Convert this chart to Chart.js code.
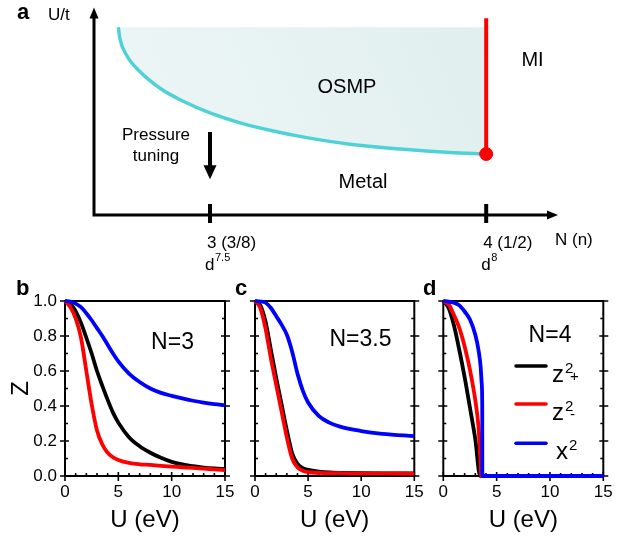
<!DOCTYPE html>
<html>
<head>
<meta charset="utf-8">
<script src="https://cdn.jsdelivr.net/npm/chart.js@4/dist/chart.umd.min.js"></script>
<style>
  body { margin: 0; background: #fff; width: 638px; height: 538px; position: relative; overflow: hidden; }
  canvas { position: absolute; }
</style>
</head>
<body>
<canvas id="chartA" width="638" height="280" style="left:0;top:0"></canvas>
<canvas id="chartB" width="240" height="258" style="left:0;top:280px"></canvas>
<canvas id="chartC" width="200" height="258" style="left:232px;top:280px"></canvas>
<canvas id="chartD" width="218" height="258" style="left:420px;top:280px"></canvas>
<script>
// panel a: OSMP boundary U/t vs N
const boundaryN = [2.668, 2.674, 2.698, 2.747, 2.819, 2.903, 3.0, 3.109, 3.229, 3.35, 3.507, 3.688, 3.869, 4.0];
const boundaryU = [9.05, 8.49, 7.70, 6.90, 6.11, 5.48, 4.92, 4.44, 4.05, 3.73, 3.41, 3.18, 3.01, 2.94];
const osmpTop = 9.05;
const miN = 4;
const miU = [2.94, 9.48];
const aTickValues = [3, 4];
const aTickLabels = ['3 (3/8)', '4 (1/2)'];
const aTickConfigs = [['d', '7.5'], ['d', '8']];
const pressureN = 3;
const pressureU = [4.0, 1.72];

// panel b: N=3
const uB = [0, 0.5, 1, 1.5, 2, 2.5, 3, 3.5, 4, 4.5, 5, 6, 7, 8, 9, 10, 11, 12, 13, 14, 15];
const zPlusB = [1, .985, .94, .875, .79, .70, .60, .515, .435, .362, .305, .222, .17, .133, .104, .081, .066, .056, .048, .043, .04];
const zMinusB = [1, .965, .90, .79, .60, .41, .26, .18, .133, .107, .092, .075, .067, .063, .058, .054, .05, .046, .042, .038, .034];
const x2B = [1, .997, .985, .965, .93, .89, .845, .80, .75, .70, .655, .585, .537, .50, .475, .458, .443, .43, .419, .411, .405];

// panel c: N=3.5
const uC = [0, 0.5, 1, 1.5, 2, 2.5, 3, 3.5, 4, 4.5, 5, 6, 7, 8, 10, 12, 15];
const zPlusC = [1, .975, .88, .72, .56, .41, .26, .13, .07, .045, .035, .025, .02, .018, .016, .015, .015];
const zMinusC = [1, .96, .84, .67, .52, .37, .22, .10, .05, .03, .022, .018, .016, .016, .015, .015, .014];
const x2C = [1, .997, .99, .96, .913, .865, .807, .71, .585, .488, .42, .344, .305, .282, .257, .241, .228];

// panel d: N=4
const uPlusD = [0, 0.5, 1, 1.5, 2, 2.5, 3, 3.45, 15];
const zPlusD = [1, .96, .86, .72, .565, .39, .21, 0, 0];
const uMinusD = [0, 0.5, 1, 1.5, 2, 2.5, 3, 3.3, 3.5, 3.55, 15];
const zMinusD = [1, .98, .92, .846, .74, .606, .433, .28, .07, 0, 0];
const uX2D = [0, 0.5, 1, 1.5, 2, 2.5, 3, 3.3, 3.5, 3.6, 3.65, 3.66, 15];
const x2D = [1, .996, .99, .975, .94, .894, .807, .72, .625, .53, .40, 0, 0];

const legendLabels = [['z', '2', '+'], ['z', '2', '-'], ['x', '2', '']];
const seriesColors = ['#000000', '#ff0000', '#0000ff'];

const FONT = "'Liberation Sans', Arial, sans-serif";
Chart.defaults.font.family = FONT;
Chart.defaults.color = '#000';

function pts(xs, ys) {
  return xs.map((x, i) => ({x: x, y: ys[i]}));
}

function txt(ctx, s, x, y, size, align, bold) {
  ctx.font = (bold ? 'bold ' : '') + size + 'px ' + FONT;
  ctx.textAlign = align || 'center';
  ctx.fillText(s, x, y);
}

// ---------- panel a ----------
const phasePlugin = {
  id: 'phase',
  afterDraw(chart) {
    const {ctx, chartArea: a, scales: {x, y}} = chart;
    ctx.save();
    ctx.strokeStyle = '#000';
    ctx.fillStyle = '#000';
    ctx.lineWidth = 3;
    // axes with arrows
    ctx.beginPath();
    ctx.moveTo(a.left, a.bottom); ctx.lineTo(a.left, a.top + 8);
    ctx.moveTo(a.left - 1.5, a.bottom); ctx.lineTo(a.right - 8, a.bottom);
    ctx.stroke();
    ctx.beginPath();
    ctx.moveTo(a.left, a.top); ctx.lineTo(a.left - 4.5, a.top + 11); ctx.lineTo(a.left + 4.5, a.top + 11); ctx.closePath();
    ctx.moveTo(a.right, a.bottom); ctx.lineTo(a.right - 11, a.bottom - 4.5); ctx.lineTo(a.right - 11, a.bottom + 4.5); ctx.closePath();
    ctx.fill();
    // ticks + labels
    ctx.lineWidth = 4;
    ctx.textBaseline = 'middle';
    aTickValues.forEach((v, i) => {
      const px = x.getPixelForValue(v);
      ctx.beginPath(); ctx.moveTo(px, a.bottom - 11); ctx.lineTo(px, a.bottom + 8); ctx.stroke();
      txt(ctx, aTickLabels[i], px - 3, 243, 17, 'left');
      ctx.font = '17px ' + FONT;
      const dw = ctx.measureText(aTickConfigs[i][0]).width;
      txt(ctx, aTickConfigs[i][0], px - 5, 265, 17, 'left');
      txt(ctx, aTickConfigs[i][1], px - 5 + dw + 0.5, 258, 11, 'left');
    });
    txt(ctx, 'N (n)', 555, 240, 17, 'left');
    txt(ctx, 'U/t', 48, 15, 17, 'left');
    txt(ctx, 'a', 17, 13, 22, 'left', true);
    txt(ctx, 'OSMP', 347, 87, 20);
    txt(ctx, 'MI', 532.5, 60, 20);
    txt(ctx, 'Metal', 363, 182, 20);
    txt(ctx, 'Pressure', 156, 135, 17);
    txt(ctx, 'tuning', 156, 156, 17);
    // pressure arrow
    const ax = x.getPixelForValue(pressureN);
    const y0 = y.getPixelForValue(pressureU[0]);
    const y1 = y.getPixelForValue(pressureU[1]);
    ctx.beginPath(); ctx.moveTo(ax, y0); ctx.lineTo(ax, y1 - 12); ctx.stroke();
    ctx.beginPath();
    ctx.moveTo(ax, y1); ctx.lineTo(ax - 6.5, y1 - 14); ctx.lineTo(ax + 6.5, y1 - 14); ctx.closePath();
    ctx.fill();
    ctx.restore();
  }
};

new Chart(document.getElementById('chartA'), {
  type: 'line',
  data: {
    datasets: [
      {
        data: pts(boundaryN, boundaryU),
        borderColor: '#4fd2d6',
        borderWidth: 3.5,
        pointRadius: 0,
        cubicInterpolationMode: 'monotone',
        fill: {value: osmpTop},
        backgroundColor: (c) => {
          const a = c.chart.chartArea;
          if (!a) return '#e5f2f3';
          const g = c.chart.ctx.createLinearGradient(a.left, a.bottom, a.right, a.top);
          g.addColorStop(0, '#eff7f8');
          g.addColorStop(1, '#deeded');
          return g;
        },
        order: 3
      },
      {
        data: [{x: miN, y: miU[0]}, {x: miN, y: miU[1]}],
        borderColor: '#ff0000',
        borderWidth: 4,
        pointRadius: 0,
        order: 2
      },
      {
        data: [{x: miN, y: miU[0]}],
        showLine: false,
        pointRadius: 6.5,
        pointBackgroundColor: '#ff0000',
        pointBorderColor: '#ff0000',
        order: 1
      }
    ]
  },
  options: {
    responsive: false,
    animation: false,
    devicePixelRatio: 1,
    layout: {padding: {left: 94, right: 80, top: 5, bottom: 65}},
    plugins: {legend: {display: false}, tooltip: {enabled: false}},
    scales: {
      x: {type: 'linear', min: 2.58, max: 4.26, display: false},
      y: {type: 'linear', min: 0, max: 10, display: false}
    }
  },
  plugins: [phasePlugin]
});

// ---------- panels b, c, d ----------
const framePlugin = {
  id: 'frame',
  beforeDatasetsDraw(chart) {
    const {ctx, chartArea: a, scales: {x, y}} = chart;
    ctx.save();
    ctx.strokeStyle = '#000';
    ctx.lineWidth = 2;
    ctx.strokeRect(a.left, a.top, a.right - a.left, a.bottom - a.top);
    ctx.lineWidth = 1.6;
    ctx.beginPath();
    for (let v = 0; v <= 15; v++) {
      const px = x.getPixelForValue(v);
      const major = v % 5 === 0;
      ctx.moveTo(px, a.bottom + (major ? 5 : 0));
      ctx.lineTo(px, a.bottom - (major ? 4 : 3));
    }
    for (let k = 0; k <= 10; k++) {
      const py = y.getPixelForValue(k / 10);
      const major = k % 2 === 0;
      ctx.moveTo(a.left - (major ? 5 : 0), py); ctx.lineTo(a.left + (major ? 4 : 3), py);
      ctx.moveTo(a.right + (major ? 5 : 0), py); ctx.lineTo(a.right - (major ? 4 : 3), py);
    }
    ctx.stroke();
    ctx.restore();
  }
};

function panel(id, series, cfg) {
  return new Chart(document.getElementById(id), {
    type: 'line',
    data: {
      datasets: series.map((s, i) => ({
        data: pts(s[0], s[1]),
        borderColor: seriesColors[i],
        borderWidth: 3.8,
        pointRadius: 0,
        cubicInterpolationMode: 'monotone',
        fill: false,
        clip: 4,
        order: 3 - i
      }))
    },
    options: {
      responsive: false,
      animation: false,
      devicePixelRatio: 1,
      layout: {padding: {left: 0, right: cfg.padRight, top: 21, bottom: 0}},
      plugins: {legend: {display: false}, tooltip: {enabled: false}},
      scales: {
        x: {
          type: 'linear', min: 0, max: 15,
          grid: {display: false, drawTicks: false},
          border: {display: false},
          ticks: {stepSize: 5, padding: 6, font: {size: 17}, maxRotation: 0, autoSkip: false},
          title: {display: true, text: 'U (eV)', font: {size: 24, lineHeight: 1}, padding: {top: 0, bottom: 6}},
          afterFit: (s) => { s.height = 62; s.paddingLeft = 0; s.paddingRight = 0; }
        },
        y: {
          type: 'linear', min: 0, max: 1,
          grid: {display: false, drawTicks: false},
          border: {display: false},
          ticks: {display: cfg.yLabels, stepSize: 0.2, padding: 8, font: {size: 17}, callback: (v) => v.toFixed(1)},
          title: {display: cfg.yLabels, text: 'Z', font: {size: 24, lineHeight: 1}, padding: {top: 9.5, bottom: 0}},
          afterFit: (s) => { s.width = cfg.yWidth; s.paddingTop = 0; s.paddingBottom = 0; }
        }
      }
    },
    plugins: [framePlugin, {id: 'notes', afterDraw: cfg.notes}]
  });
}

panel('chartB', [[uB, zPlusB], [uB, zMinusB], [uB, x2B]], {
  padRight: 15, yWidth: 65, yLabels: true,
  notes(chart) {
    const ctx = chart.ctx;
    ctx.save();
    ctx.fillStyle = '#000';
    ctx.textBaseline = 'alphabetic';
    txt(ctx, 'b', 16, 15, 22, 'left', true);
    txt(ctx, 'N=3', 172.5, 69, 23);
    ctx.restore();
  }
});

panel('chartC', [[uC, zPlusC], [uC, zMinusC], [uC, x2C]], {
  padRight: 17.7, yWidth: 23, yLabels: false,
  notes(chart) {
    const ctx = chart.ctx;
    ctx.save();
    ctx.fillStyle = '#000';
    ctx.textBaseline = 'alphabetic';
    txt(ctx, 'c', 3, 15, 22, 'left', true);
    txt(ctx, 'N=3.5', 128.5, 66, 23);
    ctx.restore();
  }
});

panel('chartD', [[uPlusD, zPlusD], [uMinusD, zMinusD], [uX2D, x2D]], {
  padRight: 34.7, yWidth: 23.3, yLabels: false,
  notes(chart) {
    const ctx = chart.ctx;
    ctx.save();
    ctx.fillStyle = '#000';
    ctx.textBaseline = 'alphabetic';
    txt(ctx, 'd', 3, 15, 22, 'left', true);
    txt(ctx, 'N=4', 130, 62, 23);
    const lineYs = [86, 124, 163.3];
    legendLabels.forEach((lab, i) => {
      const ly = lineYs[i];
      ctx.strokeStyle = seriesColors[i];
      ctx.lineWidth = 3.5;
      ctx.lineCap = 'round';
      ctx.beginPath(); ctx.moveTo(96, ly); ctx.lineTo(126, ly); ctx.stroke();
      const bx = lab[2] ? 132 : 136;
      ctx.font = '24px ' + FONT;
      const w = ctx.measureText(lab[0]).width;
      txt(ctx, lab[0], bx, ly + 15.7, 24, 'left');
      txt(ctx, lab[1], bx + w + 1, ly + 7, 15, 'left');
      if (lab[2]) txt(ctx, lab[2], bx + w + 6, ly + 15, 15, 'left');
    });
    ctx.restore();
  }
});
</script>
</body>
</html>
